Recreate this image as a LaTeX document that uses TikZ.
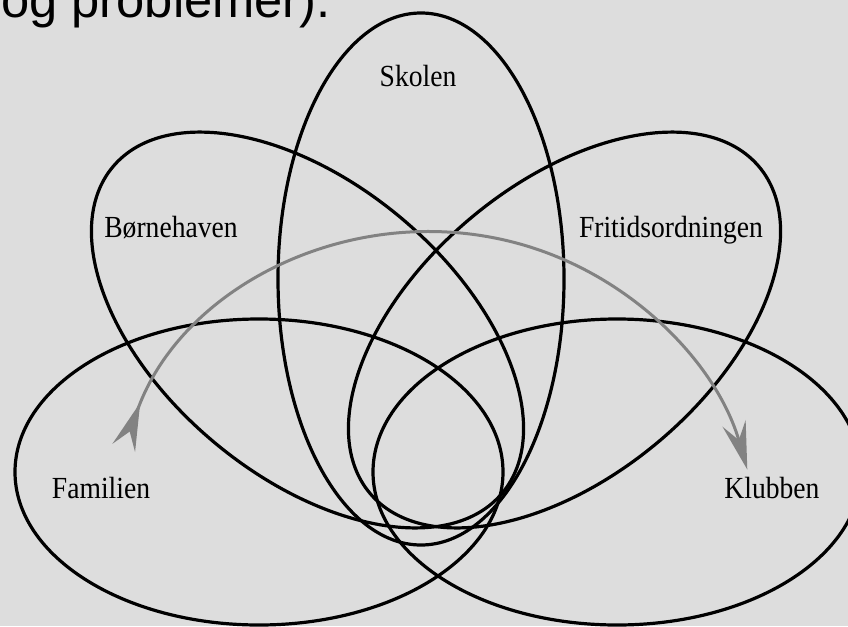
\documentclass[tikz,border=0pt]{standalone}
\usepackage{fontspec}
\usetikzlibrary{arrows.meta}
\newfontfamily\lblfont{Liberation Serif}[FakeStretch=0.9]
\newfontfamily\headfont{Liberation Sans}
\definecolor{bgray}{RGB}{221,221,221}
\definecolor{agray}{RGB}{130,130,130}

\begin{document}
\begin{tikzpicture}[x=0.75pt, y=0.75pt,
    ring/.style={line width=2.4pt, black},
    lbl/.style={font=\lblfont\fontsize{23}{26}\selectfont, anchor=base, inner sep=0pt},
    flow/.style={line width=2.25pt, agray}]

    \fill[bgray] (0,0) rectangle (848,626);
    \useasboundingbox (0,0) rectangle (848,626);
    \clip (0,0) rectangle (848,626);

    \coordinate (cSkolen) at (421, 347);
    \coordinate (cBorn) at (307.5, 296);
    \coordinate (cFrit) at (564.5, 296);
    \coordinate (cFam) at (259, 154);
    \coordinate (cKlub) at (617, 154);
    \coordinate (tail) at ({432+328*cos(160)}, {66+328*sin(160)});

    \node[anchor=base west, inner sep=0pt, font=\headfont\fontsize{38}{40}\selectfont] (head) at (1, 608) {og problemer).};

    % the five rings
    \draw[ring] (cSkolen) ellipse [x radius=143, y radius=266];
    \draw[ring, rotate around={-40:(cBorn)}] (cBorn) ellipse [x radius=254, y radius=146];
    \draw[ring, rotate around={40:(cFrit)}] (cFrit) ellipse [x radius=254, y radius=146];
    \draw[ring] (cFam) ellipse [x radius=244, y radius=153];
    \draw[ring] (cKlub) ellipse [x radius=244, y radius=153];

    \node[lbl] (skolen) at (418, 539) {Skolen};
    \node[lbl] (born) at (171, 389) {Børnehaven};
    \node[lbl] (frit) at (671, 389) {Fritidsordningen};
    \node[lbl] (fam) at (101, 128) {Familien};
    \node[lbl] (klub) at (772, 128) {Klubben};

    \draw[flow, {Stealth[reversed, length=36pt, width=18pt, inset=13pt]}-{Stealth[length=36pt, width=18pt, inset=13pt]}]
        (tail) arc[start angle=160, end angle=16, radius=328];

\end{tikzpicture}
\end{document}
